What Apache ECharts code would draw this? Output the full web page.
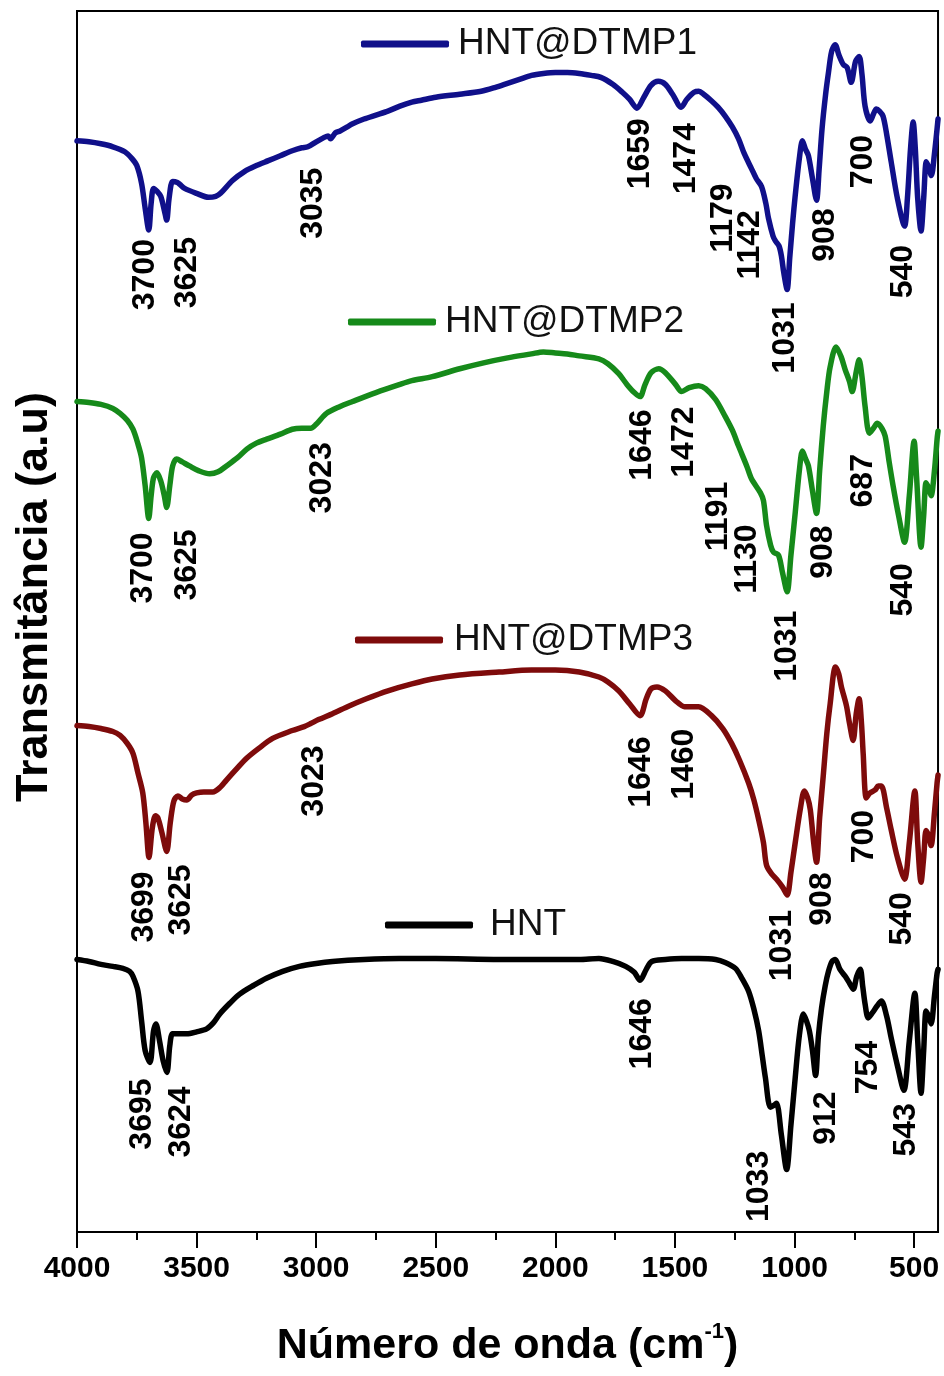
<!DOCTYPE html>
<html>
<head>
<meta charset="utf-8">
<script src="https://cdn.jsdelivr.net/npm/echarts@6/dist/echarts.min.js"></script>
<style>
  html, body { margin: 0; padding: 0; background: #fff; }
  #chart { width: 944px; height: 1376px; }
</style>
</head>
<body>
<div id="chart"></div>
<script>
// FTIR spectra: [wavenumber (cm-1), transmittance (a.u., offset per sample)]
const hntDtmp1 = [
  [4000,1101],[3950,1100],[3900,1098],[3850,1095],[3800,1090],[3770,1083],[3750,1076],[3730,1058],
  [3715,1033],[3700,1011],[3690,1038],[3680,1053],[3665,1050],[3650,1045],[3635,1031],[3625,1021],
  [3615,1043],[3600,1060],[3580,1059],[3570,1057],[3550,1053],[3500,1048],[3450,1044],[3420,1045],
  [3400,1048],[3350,1061],[3300,1070],[3250,1076],[3200,1081],[3150,1086],[3100,1091],[3060,1094],
  [3035,1095],[3000,1100],[2970,1104],[2950,1106],[2940,1103],[2920,1109],[2900,1111],[2870,1115],
  [2850,1118],[2800,1123],[2750,1127],[2700,1131],[2650,1136],[2600,1140],[2560,1142],[2500,1145],
  [2400,1148],[2310,1151],[2250,1155],[2200,1159],[2150,1163],[2100,1167],[2050,1169],[2000,1170],
  [1950,1170],[1900,1169],[1850,1167],[1810,1165],[1760,1158],[1720,1150],[1690,1143],[1659,1134],
  [1630,1145],[1600,1157],[1570,1161],[1540,1158],[1510,1148],[1474,1135],[1450,1143],[1420,1150],
  [1400,1151],[1380,1148],[1350,1142],[1320,1135],[1290,1126],[1260,1115],[1234,1103],[1210,1088],
  [1180,1073],[1160,1063],[1138,1055],[1120,1038],[1109,1023],[1090,1005],[1080,1000],[1065,995],
  [1055,985],[1045,968],[1031,951],[1020,983],[1008,1018],[997,1046],[980,1083],[967,1101],
  [955,1093],[942,1086],[925,1063],[908,1041],[897,1073],[885,1113],[870,1148],[858,1170],
  [845,1191],[830,1198],[815,1188],[796,1178],[780,1175],[763,1160],[745,1181],[730,1186],
  [718,1168],[705,1136],[683,1121],[670,1128],[658,1133],[645,1131],[630,1126],[615,1108],
  [596,1080],[570,1043],[540,1015],[528,1043],[515,1093],[504,1120],[495,1093],[485,1043],
  [471,1010],[460,1043],[449,1080],[440,1075],[428,1066],[415,1088],[400,1123]
];
const hntDtmp2 = [
  [4000,838],[3950,837],[3900,835],[3850,831],[3820,826],[3790,819],[3766,810],[3745,795],
  [3730,781],[3715,753],[3700,720],[3690,743],[3680,761],[3666,766],[3650,758],[3635,743],
  [3625,731],[3612,753],[3600,773],[3583,780],[3560,777],[3530,773],[3490,768],[3445,765],
  [3410,767],[3375,773],[3330,781],[3290,790],[3250,796],[3207,800],[3150,805],[3100,810],
  [3060,811],[3023,811],[3000,815],[2957,826],[2900,833],[2848,838],[2750,847],[2653,855],
  [2600,859],[2515,863],[2400,871],[2300,877],[2200,882],[2100,886],[2050,888],[2000,887],
  [1950,886],[1900,884],[1818,881],[1780,876],[1735,866],[1700,855],[1670,847],[1646,843],
  [1625,855],[1600,867],[1568,871],[1540,867],[1497,855],[1472,848],[1440,852],[1401,854],
  [1372,851],[1330,840],[1290,823],[1260,809],[1234,793],[1200,773],[1180,760],[1143,746],
  [1130,738],[1117,713],[1100,693],[1088,686],[1067,683],[1050,665],[1031,646],[1015,683],
  [997,726],[980,768],[967,788],[955,781],[942,773],[925,748],[908,725],[895,768],
  [880,813],[865,848],[851,873],[826,893],[805,883],[788,870],[770,858],[759,848],
  [742,868],[730,880],[718,863],[705,833],[687,806],[670,811],[654,816],[635,811],
  [621,803],[605,778],[588,753],[565,723],[540,696],[520,743],[500,798],[490,763],
  [471,691],[460,723],[450,756],[440,751],[429,743],[415,768],[404,800],[400,808]
];
const hntDtmp3 = [
  [4000,511],[3950,510],[3900,508],[3850,505],[3820,501],[3790,493],[3766,483],[3745,463],
  [3725,443],[3712,413],[3699,378],[3685,408],[3672,420],[3662,418],[3645,403],[3625,384],
  [3610,413],[3595,435],[3578,440],[3560,437],[3541,436],[3520,441],[3500,443],[3470,444],
  [3432,444],[3400,449],[3375,456],[3330,468],[3291,478],[3240,488],[3182,498],[3100,506],
  [3050,510],[3023,513],[2990,517],[2932,523],[2860,531],[2790,538],[2700,546],[2600,553],
  [2515,558],[2400,562],[2235,565],[2100,567],[2000,567],[1900,565],[1818,560],[1780,555],
  [1735,546],[1690,533],[1646,521],[1620,538],[1600,548],[1575,550],[1540,546],[1497,536],
  [1460,530],[1420,530],[1401,530],[1347,521],[1300,508],[1263,493],[1230,476],[1192,453],
  [1170,436],[1150,416],[1130,393],[1117,370],[1095,361],[1075,356],[1050,348],[1031,340],
  [1015,363],[997,393],[975,428],[959,445],[945,438],[934,426],[920,393],[908,373],
  [895,418],[880,460],[865,503],[851,533],[829,570],[815,563],[804,550],[783,531],
  [770,513],[755,496],[742,523],[730,538],[720,513],[713,483],[700,438],[685,443],
  [663,446],[650,450],[637,450],[615,428],[596,406],[570,378],[540,356],[520,393],
  [497,445],[485,393],[471,353],[460,378],[450,405],[440,400],[429,390],[415,423],
  [404,453],[400,461]
];
const hnt = [
  [4000,275],[3950,273],[3900,270],[3850,268],[3808,266],[3780,263],[3766,258],[3745,243],
  [3730,213],[3715,183],[3695,171],[3680,203],[3670,210],[3655,193],[3640,173],[3624,161],
  [3612,188],[3600,200],[3570,200],[3541,200],[3500,202],[3458,205],[3430,211],[3403,220],
  [3360,231],[3320,240],[3260,249],[3208,256],[3140,263],[3070,268],[3000,271],[2932,273],
  [2800,275],[2653,276],[2500,276],[2235,275],[2000,275],[1900,275],[1818,276],[1760,273],
  [1706,268],[1670,262],[1646,254],[1620,265],[1597,273],[1540,275],[1472,276],[1400,276],
  [1330,275],[1290,272],[1247,266],[1220,256],[1192,243],[1170,225],[1150,203],[1135,178],
  [1122,156],[1101,126],[1085,128],[1075,130],[1055,98],[1033,63],[1015,108],[997,156],
  [980,198],[963,220],[950,213],[938,203],[925,183],[912,158],[900,198],[887,226],
  [872,248],[858,263],[843,273],[830,275],[810,265],[788,258],[770,251],[754,245],
  [740,258],[725,265],[715,248],[705,230],[692,216],[675,221],[655,228],[637,233],
  [615,218],[596,196],[570,168],[543,143],[520,193],[497,241],[485,193],[471,140],
  [460,183],[450,223],[440,218],[429,210],[415,238],[404,261],[400,265]
];

// band assignments written beside each spectrum
const hntDtmp1Peaks = ['3700','3625','3035','1659','1474','1179','1142','1031','908','700','540'];
const hntDtmp2Peaks = ['3700','3625','3023','1646','1472','1191','1130','1031','908','687','540'];
const hntDtmp3Peaks = ['3699','3625','3023','1646','1460','1031','908','700','540'];
const hntPeaks      = ['3695','3624','1646','1033','912','754','543'];

const majorTicks = [500, 1000, 1500, 2000, 2500, 3000, 3500, 4000];
const minorTicks = [750, 1250, 1750, 2250, 2750, 3250, 3750];

// label placement: [horizontal shift in px, vertical centre in a.u.]
const peakLayout = {
  'HNT@DTMP1': [[-4,966],[20,968],[5,1038],[3,1088],[5,1083],[-29,1023],[-10,996],[-2,902],[9,1006],[-3,1080],[-1,969]],
  'HNT@DTMP2': [[-6,670],[20,673],[11,761],[2,794],[3,797],[-31,722],[-16,679],[0,591],[7,686],[-6,758],[-1,648]],
  'HNT@DTMP3': [[-5,328],[14,335],[3,455],[1,464],[0,472],[-5,289],[6,336],[-2,399],[-2,316]],
  'HNT':       [[-8,119],[14,111],[2,200],[-27,46],[11,115],[15,166],[2,103]]
};

const spectra = [
  { name: 'HNT@DTMP1', data: hntDtmp1, peaks: hntDtmp1Peaks, color: '#10108a', legend: { left: 361, top: 24, gap: 4 } },
  { name: 'HNT@DTMP2', data: hntDtmp2, peaks: hntDtmp2Peaks, color: '#168a1a', legend: { left: 348, top: 302, gap: 4 } },
  { name: 'HNT@DTMP3', data: hntDtmp3, peaks: hntDtmp3Peaks, color: '#7e0b0b', legend: { left: 355, top: 620, gap: 6 } },
  { name: 'HNT',       data: hnt,      peaks: hntPeaks,      color: '#000000', legend: { left: 385, top: 905, gap: 12 } }
];

const FONT = '"Liberation Sans", Arial, Helvetica, sans-serif';
const chart = echarts.init(document.getElementById('chart'), null, { renderer: 'canvas' });

const option = {
  animation: false,
  backgroundColor: '#ffffff',
  grid: {
    left: 77, right: 4, top: 11, bottom: 133,
    show: true, borderColor: '#000', borderWidth: 2, backgroundColor: 'transparent'
  },
  legend: spectra.map(s => ({
    data: [s.name],
    left: s.legend.left,
    top: s.legend.top,
    padding: 0,
    icon: 'roundRect',
    itemWidth: 88,
    itemHeight: 7,
    selectedMode: false,
    textStyle: {
      fontFamily: FONT, fontSize: 37, color: '#111', lineHeight: 40,
      padding: [0, 0, 0, s.legend.gap]
    }
  })),
  xAxis: [
    {
      type: 'value', min: 400, max: 4000, inverse: true, position: 'bottom',
      name: 'Número de onda (cm{sup|-1})',
      nameLocation: 'middle', nameGap: 89,
      nameTextStyle: {
        fontFamily: FONT, fontSize: 43, fontWeight: 'bold', color: '#000', lineHeight: 50,
        rich: {
          sup: { fontFamily: FONT, fontSize: 22, fontWeight: 'bold', color: '#000', verticalAlign: 'top', lineHeight: 24 }
        }
      },
      axisLine: { show: true, lineStyle: { color: '#000', width: 2 } },
      axisTick: { show: true, inside: false, length: 16, lineStyle: { color: '#000', width: 2 }, customValues: majorTicks },
      axisLabel: {
        show: true, margin: 22, customValues: majorTicks,
        formatter: v => String(v),
        fontFamily: FONT, fontSize: 30, fontWeight: 'bold', color: '#000'
      },
      splitLine: { show: false }
    },
    {
      type: 'value', min: 400, max: 4000, inverse: true, position: 'bottom',
      axisLine: { show: false },
      axisTick: { show: true, inside: false, length: 8, lineStyle: { color: '#000', width: 2 }, customValues: minorTicks },
      axisLabel: { show: false },
      splitLine: { show: false }
    }
  ],
  yAxis: {
    type: 'value', min: 0, max: 1232,
    axisLine: { show: true, lineStyle: { color: '#000', width: 2 } },
    axisTick: { show: false },
    axisLabel: { show: false },
    splitLine: { show: false }
  },
  series: spectra.map(s => ({
    name: s.name,
    type: 'line',
    xAxisIndex: 0,
    yAxisIndex: 0,
    data: s.data,
    showSymbol: false,
    symbol: 'none',
    smooth: 0.3,
    color: s.color,
    lineStyle: { color: s.color, width: 5.5, cap: 'round', join: 'round' },
    z: 3
  }))
};

chart.setOption(option);

// axis title and band labels, placed through the axis scales
const graphics = [{
  type: 'text',
  x: 35, y: 597,
  rotation: Math.PI / 2,
  style: {
    text: 'Transmitância (a.u)',
    font: 'bold 45px ' + FONT,
    fill: '#000',
    align: 'center',
    verticalAlign: 'middle'
  },
  z: 10
}];

spectra.forEach(s => {
  const layout = peakLayout[s.name];
  s.peaks.forEach((label, i) => {
    const [dx, yAu] = layout[i];
    const p = chart.convertToPixel({ xAxisIndex: 0, yAxisIndex: 0 }, [Number(label), yAu]);
    graphics.push({
      type: 'text',
      x: p[0] + dx, y: p[1],
      rotation: Math.PI / 2,
      style: {
        text: label,
        font: 'bold 32px ' + FONT,
        fill: '#000',
        align: 'center',
        verticalAlign: 'middle'
      },
      z: 10
    });
  });
});

chart.setOption({ graphic: graphics });
</script>
</body>
</html>
